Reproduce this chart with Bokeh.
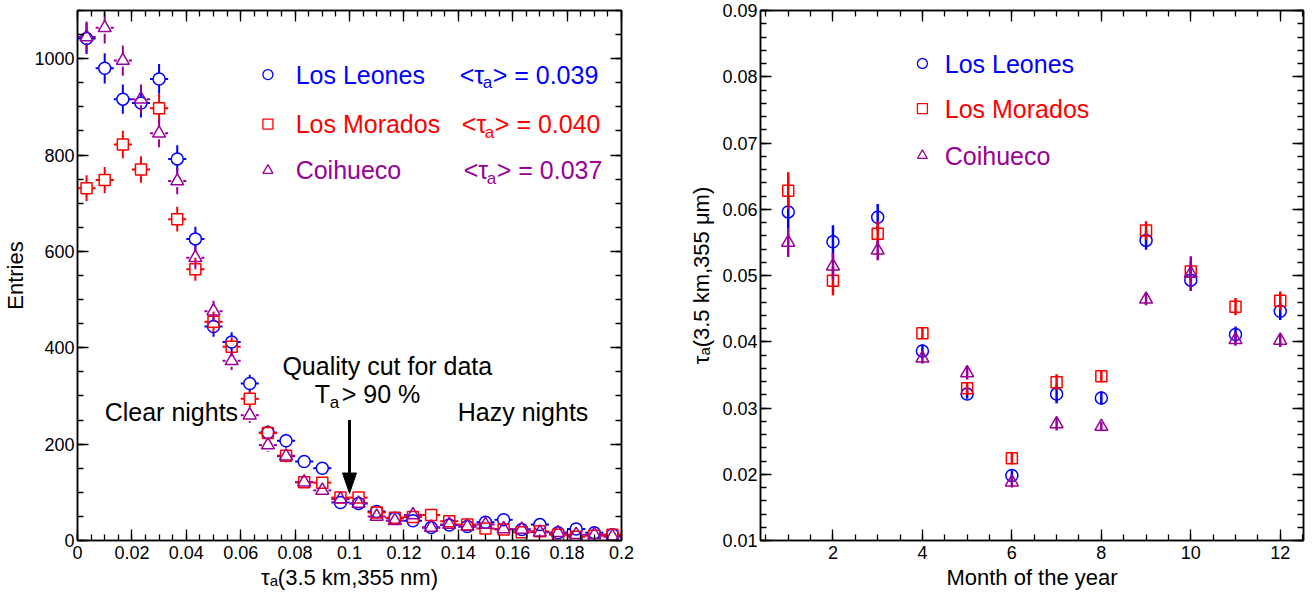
import math
import numpy as np
from bokeh.plotting import figure
from bokeh.layouts import row
from bokeh.models import (Range1d, LinearAxis, SingleIntervalTicker,
                          CustomJSTickFormatter, Label)
from bokeh.embed import file_html
from bokeh.resources import INLINE

# ---------------- data ----------------
tau_bin_centres = [0.00333, 0.01000, 0.01667, 0.02333, 0.03000, 0.03667,
                   0.04333, 0.05000, 0.05667, 0.06333, 0.07000, 0.07667,
                   0.08333, 0.09000, 0.09667, 0.10333, 0.11000, 0.11667,
                   0.12333, 0.13000, 0.13667, 0.14333, 0.15000, 0.15667,
                   0.16333, 0.17000, 0.17667, 0.18333, 0.19000, 0.19667]
entries_los_leones = [1042, 980, 916, 908, 958, 792, 626, 444, 412, 326,
                      224, 207, 164, 150, 79, 77, 60, 46, 41, 27,
                      32, 29, 38, 43, 23, 33, 16, 24, 16, 12]
entries_los_morados = [731, 748, 822, 770, 897, 667, 563, 454, 402, 294,
                       223, 176, 121, 120, 89, 89, 58, 47, 49, 53,
                       40, 33, 25, 23, 17, 19, 12, 8, 10, 12]
entries_coihueco = [1045, 1064, 996, 916, 845, 746, 587, 476, 373, 260,
                    198, 175, 121, 104, 86, 77, 50, 41, 53, 27,
                    33, 29, 33, 24, 23, 17, 16, 12, 12, 8]

months = [1, 2, 3, 4, 5, 6, 7, 8, 9, 10, 11, 12]
tau_month_los_leones = [0.0596, 0.0551, 0.0588, 0.0386, 0.0321, 0.0198,
                        0.0321, 0.0315, 0.0553, 0.0493, 0.0411, 0.0446]
err_month_los_leones = [0.0025, 0.0025, 0.0020, 0.0010, 0.0007, 0.0008,
                        0.0014, 0.0010, 0.0014, 0.0016, 0.0012, 0.0013]
tau_month_los_morados = [0.0628, 0.0492, 0.0563, 0.0413, 0.0330, 0.0224,
                         0.0339, 0.0348, 0.0568, 0.0506, 0.0453, 0.0462]
err_month_los_morados = [0.0028, 0.0022, 0.0018, 0.0008, 0.0008, 0.0009,
                         0.0012, 0.0009, 0.0014, 0.0015, 0.0013, 0.0014]
tau_month_coihueco = [0.0550, 0.0514, 0.0538, 0.0375, 0.0353, 0.0188,
                      0.0276, 0.0272, 0.0464, 0.0503, 0.0403, 0.0402]
err_month_coihueco = [0.0022, 0.0020, 0.0015, 0.0008, 0.0010, 0.0008,
                      0.0010, 0.0007, 0.0009, 0.0026, 0.0009, 0.0010]

station_names = ["Los Leones", "Los Morados", "Coihueco"]
station_colors = ["#0000ff", "#ff0000", "#990099"]
station_markers = ["circle", "square", "triangle"]
mean_tau_text = ["0.039", "0.040", "0.037"]

FONT = "Liberation Sans"

# ---------------- helpers ----------------
def style_axis(ax, ticker, fmt=None, label_size="18px"):
    ax.ticker = ticker
    if fmt is not None:
        ax.formatter = fmt
    ax.major_tick_in = 11
    ax.major_tick_out = 0
    ax.minor_tick_in = 6
    ax.minor_tick_out = 0
    ax.axis_line_width = 1.5
    ax.major_tick_line_width = 1.3
    ax.minor_tick_line_width = 1.3
    ax.major_label_text_font = FONT
    ax.major_label_text_font_size = label_size
    ax.major_label_text_color = "black"
    ax.axis_label_text_font = FONT
    ax.axis_label_text_font_size = "22px"
    ax.axis_label_text_font_style = "normal"
    ax.axis_label_text_color = "black"


def mirror_axes(p, xt, yt):
    for place, t in (("above", xt), ("right", yt)):
        ax = LinearAxis(ticker=t)
        style_axis(ax, t)
        ax.major_label_text_font_size = "1px"
        ax.major_label_text_color = None
        ax.major_label_standoff = 0
        p.add_layout(ax, place)


def base_figure(fw, fh, xr, yr, left, right):
    p = figure(frame_width=fw, frame_height=fh, x_range=xr, y_range=yr,
               output_backend="svg", toolbar_location=None,
               min_border_left=left, min_border_right=right,
               min_border_top=10, min_border_bottom=48)
    p.xgrid.visible = False
    p.ygrid.visible = False
    p.outline_line_color = "black"
    p.outline_line_width = 1.5
    p.background_fill_color = "white"
    p.border_fill_color = "white"
    return p


def lbl(p, x, y, text, size="25px", color="black", dx=0, dy=0, align="left"):
    p.add_layout(Label(x=x, y=y, x_offset=dx, y_offset=dy, text=text,
                       text_font=FONT, text_font_size=size, text_color=color,
                       text_baseline="middle", text_align=align))

# ---------------- left figure ----------------
FW1, FH1 = 544, 530
X1, Y1 = (0.0, 0.2), (0.0, 1100.0)
p1 = base_figure(FW1, FH1, Range1d(*X1), Range1d(*Y1), 66, 36)
xt1 = SingleIntervalTicker(interval=0.02, num_minor_ticks=4)
yt1 = SingleIntervalTicker(interval=200, num_minor_ticks=4)
fmt1 = CustomJSTickFormatter(code="return tick.toFixed(2).replace(/\\.?0+$/, '');")
style_axis(p1.xaxis[0], xt1, fmt1)
style_axis(p1.yaxis[0], yt1)
p1.xaxis[0].major_label_standoff = 5
p1.xaxis[0].axis_label = "τₐ(3.5 km,355 nm)"
p1.xaxis[0].axis_label_standoff = 3
p1.yaxis[0].major_label_standoff = 3
p1.yaxis[0].axis_label = "Entries"
p1.yaxis[0].axis_label_standoff = 3
mirror_axes(p1, xt1, yt1)

px_x1 = FW1 / (X1[1] - X1[0])
px_y1 = FH1 / (Y1[1] - Y1[0])
half_bin = (tau_bin_centres[1] - tau_bin_centres[0]) / 2.0
gaps = {"circle": 6.0, "square": 5.5, "triangle": 6.0}
sizes = {"circle": 12, "square": 11, "triangle": 13}

for counts, col, mk in zip([entries_los_leones, entries_los_morados, entries_coihueco],
                           station_colors, station_markers):
    gx = gaps[mk] / px_x1
    gy = gaps[mk] / px_y1
    x0, y0, x1, y1 = [], [], [], []
    for xc, n in zip(tau_bin_centres, counts):
        e = math.sqrt(n)
        if e > gy:
            x0 += [xc, xc]; y0 += [n + gy, n - e]
            x1 += [xc, xc]; y1 += [n + e, n - gy]
        x0 += [xc - half_bin, xc + gx]; y0 += [n, n]
        x1 += [xc - gx, xc + half_bin]; y1 += [n, n]
    p1.segment(x0=x0, y0=y0, x1=x1, y1=y1, line_color=col, line_width=2)
    p1.scatter(x=tau_bin_centres, y=counts, marker=mk, size=sizes[mk],
               fill_color=None, line_color=col, line_width=1.5)

# legend of left plot
leg_y1 = [967, 864, 768]
leg_tau_x = [0.1405, 0.1413, 0.1420]
for name, col, mk, yy, tx, mt in zip(station_names, station_colors, station_markers,
                                     leg_y1, leg_tau_x, mean_tau_text):
    p1.scatter(x=[0.070], y=[yy], marker=mk, size=10, fill_color=None,
               line_color=col, line_width=1.3)
    lbl(p1, 0.0802, yy, name, color=col)
    lbl(p1, tx, yy, "<τ", color=col)
    lbl(p1, tx, yy, "a", size="17px", color=col, dx=23, dy=-8)
    lbl(p1, tx, yy, "> = " + mt, color=col, dx=33)

# annotations of left plot
lbl(p1, 0.0100, 267, "Clear nights")
lbl(p1, 0.1398, 267, "Hazy nights")
lbl(p1, 0.1139, 363, "Quality cut for data", align="center")
lbl(p1, 0.0872, 304, "T")
lbl(p1, 0.0872, 304, "a", size="17px", dx=15, dy=-8)
lbl(p1, 0.0872, 304, "> 90 %", dx=27)
# arrow at the quality cut
cut_x = 0.1
p1.segment(x0=[cut_x], y0=[250], x1=[cut_x], y1=[138], line_color="black", line_width=3)
hw_arrow = 7.0 / px_x1
p1.patch(x=[cut_x - hw_arrow, cut_x + hw_arrow, cut_x], y=[140, 140, 98],
         fill_color="black", line_color="black")

# ---------------- right figure ----------------
FW2, FH2 = 543, 530
X2, Y2 = (0.38, 12.52), (0.01, 0.09)
p2 = base_figure(FW2, FH2, Range1d(*X2), Range1d(*Y2), 103, 5)
xt2 = SingleIntervalTicker(interval=2, num_minor_ticks=4)
yt2 = SingleIntervalTicker(interval=0.01, num_minor_ticks=5)
fmt2 = CustomJSTickFormatter(code="return tick.toFixed(2);")
style_axis(p2.xaxis[0], xt2)
style_axis(p2.yaxis[0], yt2, fmt2)
p2.xaxis[0].major_label_standoff = 5
p2.yaxis[0].major_label_standoff = 3
p2.xaxis[0].axis_label = "Month of the year"
p2.xaxis[0].axis_label_standoff = 3
p2.yaxis[0].axis_label = "τₐ(3.5 km,355 μm)"
p2.yaxis[0].axis_label_standoff = 5
mirror_axes(p2, xt2, yt2)

for vals, errs, col, mk in zip([tau_month_los_leones, tau_month_los_morados, tau_month_coihueco],
                               [err_month_los_leones, err_month_los_morados, err_month_coihueco],
                               station_colors, station_markers):
    lo = [v - e for v, e in zip(vals, errs)]
    hi = [v + e for v, e in zip(vals, errs)]
    p2.segment(x0=months, y0=lo, x1=months, y1=hi, line_color=col, line_width=2.5)
    p2.scatter(x=months, y=vals, marker=mk, size=sizes[mk], fill_color=None,
               line_color=col, line_width=1.5)

leg_y2 = [0.0820, 0.0752, 0.0681]
for name, col, mk, yy in zip(station_names, station_colors, station_markers, leg_y2):
    p2.scatter(x=[4.0], y=[yy], marker=mk, size=10, fill_color=None,
               line_color=col, line_width=1.3)
    lbl(p2, 4.5, yy, name, color=col)

layout = row(p1, p2)
open("out.html", "w").write(file_html(layout, INLINE))
